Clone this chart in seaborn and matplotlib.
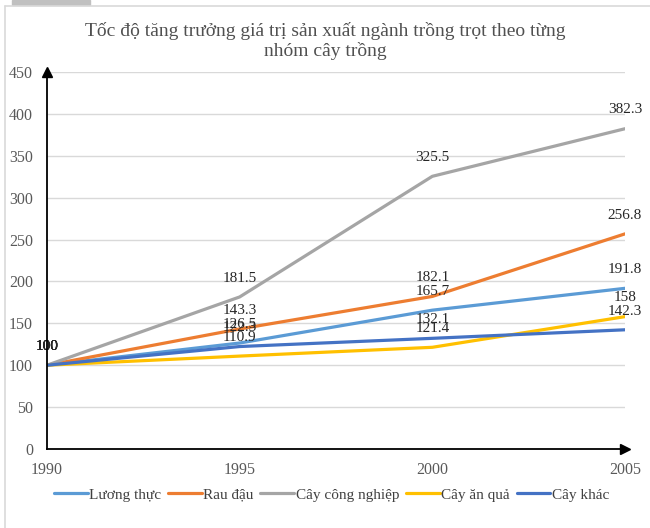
import pandas as pd
import seaborn as sns
import matplotlib.pyplot as plt
from matplotlib.lines import Line2D
from matplotlib.patches import Rectangle

# dữ liệu
years = [1990, 1995, 2000, 2005]
luong_thuc = [100, 126.5, 165.7, 191.8]
rau_dau = [100, 143.3, 182.1, 256.8]
cay_cong_nghiep = [100, 181.5, 325.5, 382.3]
cay_an_qua = [100, 110.9, 121.4, 158]
cay_khac = [100, 122.3, 132.1, 142.3]
series_names = ['Lương thực', 'Rau đậu', 'Cây công nghiệp', 'Cây ăn quả', 'Cây khác']
yticks = [0, 50, 100, 150, 200, 250, 300, 350, 400, 450]

colors = ['#5B9BD5', '#ED7D31', '#A5A5A5', '#FFC000', '#4472C4']

rows = []
for name, vals in zip(series_names, [luong_thuc, rau_dau, cay_cong_nghiep, cay_an_qua, cay_khac]):
    for yr, v in zip(years, vals):
        rows.append({'Năm': yr, 'Giá trị': v, 'Nhóm': name})
df = pd.DataFrame(rows)

sns.set_style('white')
plt.rcParams['font.family'] = ['Liberation Serif', 'DejaVu Serif']

fig = plt.figure(figsize=(6.5, 5.28), dpi=100)
ax = fig.add_axes([47 / 650, 1 - 449 / 528, 578 / 650, 377 / 528])

sns.lineplot(data=df, x='Năm', y='Giá trị', hue='Nhóm', hue_order=series_names,
             palette=colors, linewidth=2.3, ax=ax, legend=False)

# nhãn số liệu
for name in series_names:
    sub = df[df['Nhóm'] == name]
    for yr, v in zip(sub['Năm'], sub['Giá trị']):
        ax.annotate(f'{v:g}', (yr, v), xytext=(0, 13.5), textcoords='offset points',
                    ha='center', va='center', fontsize=11, color='#262626',
                    annotation_clip=False)

ax.set_xlim(years[0], years[-1])
ax.set_ylim(0, 450)
ax.set_xticks(years)
ax.set_yticks(yticks)
ax.tick_params(axis='both', labelsize=11.5, colors='#595959', length=0)
ax.tick_params(axis='x', pad=9)
ax.tick_params(axis='y', pad=10)
ax.yaxis.grid(True, color='#D9D9D9', linewidth=1)
ax.set_xlabel('')
ax.set_ylabel('')
for s in ['top', 'right']:
    ax.spines[s].set_visible(False)
for s in ['left', 'bottom']:
    ax.spines[s].set_color('black')
    ax.spines[s].set_linewidth(1.3)
    ax.spines[s].set_zorder(5)
# mũi tên trục
ax.plot(0, 1, marker='^', color='black', markersize=7, transform=ax.transAxes, clip_on=False, zorder=6)
ax.plot(1, 0, marker='>', color='black', markersize=7, transform=ax.transAxes, clip_on=False, zorder=6)

fig.suptitle('Tốc độ tăng trưởng giá trị sản xuất ngành trồng trọt theo từng\nnhóm cây trồng',
             x=0.5, y=0.958, fontsize=14, color='#505050', linespacing=1.15)

handles = [Line2D([0], [0], color=c, linewidth=2.3) for c in colors]
fig.legend(handles, series_names, loc='center', bbox_to_anchor=(0.51, 0.063), ncol=5,
           frameon=False, fontsize=11, handlelength=2.2, handletextpad=0.1,
           columnspacing=0.45, labelcolor='#404040')

# khung
fig.add_artist(Line2D([5 / 650, 1], [1 - 6 / 528, 1 - 6 / 528], color='#D9D9D9', linewidth=1.2,
                      transform=fig.transFigure))
fig.add_artist(Line2D([5 / 650, 5 / 650], [0, 1 - 6 / 528], color='#D9D9D9', linewidth=1.2,
                      transform=fig.transFigure))
fig.add_artist(Rectangle((12 / 650, 1 - 5 / 528), 78 / 650, 5 / 528, color='#C0C0C0',
                         transform=fig.transFigure))

fig.savefig('out.png', dpi=100)
